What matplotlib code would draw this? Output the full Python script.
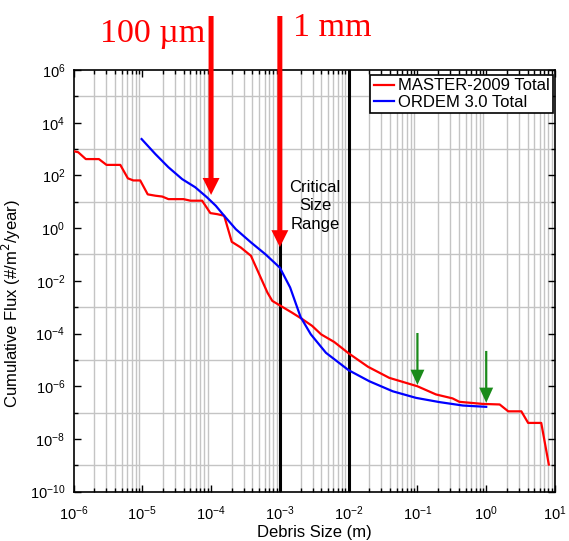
"""MASTER-2009 vs ORDEM 3.0 cumulative debris flux, critical size range marked."""
import matplotlib
matplotlib.use("Agg")
import matplotlib.pyplot as plt
from matplotlib.ticker import LogLocator, NullFormatter

plt.rcParams['font.family'] = ['Liberation Sans', 'DejaVu Sans']

# MASTER-2009 total flux
master_size = [1.0e-6, 1.17e-6, 1.51e-6, 2.34e-6, 3.02e-6, 4.79e-6, 6.17e-6, 7.41e-6,
               9.33e-6, 1.20e-5, 1.55e-5, 1.95e-5, 2.40e-5, 3.98e-5, 5.01e-5, 7.41e-5,
               9.77e-5, 1.23e-4, 1.55e-4, 2.00e-4, 2.69e-4, 3.80e-4, 5.01e-4, 6.61e-4,
               7.76e-4, 1.0e-3, 1.51e-3, 2.14e-3, 2.95e-3, 3.98e-3, 6.17e-3, 1.0e-2,
               1.91e-2, 3.89e-2, 0.10, 0.186, 0.324, 0.407, 0.891, 1.57, 2.09, 3.24,
               4.07, 6.31, 8.13]
master_flux = [832, 759, 417, 417, 251, 251, 77.6, 64.6,
               64.6, 19.1, 17.0, 15.8, 12.6, 12.6, 11.0, 11.0,
               3.72, 3.39, 2.95, 0.302, 0.186, 0.0891, 0.0178, 3.55e-3,
               1.74e-3, 1.17e-3, 6.17e-4, 3.47e-4, 1.95e-4, 9.33e-5, 4.79e-5, 1.78e-5,
               5.50e-6, 2.09e-6, 1.0e-6, 4.90e-7, 3.47e-7, 2.57e-7, 2.14e-7, 2.04e-7,
               1.12e-7, 1.12e-7, 4.07e-8, 4.07e-8, 1.07e-9]

# ORDEM 3.0 total flux
ordem_size = [9.77e-6, 1.55e-5, 2.40e-5, 3.80e-5, 5.89e-5, 8.71e-5, 1.17e-4, 1.55e-4,
              2.29e-4, 3.80e-4, 6.17e-4, 1.0e-3, 1.41e-3, 2.0e-3, 2.82e-3, 4.68e-3,
              1.0e-2, 2.0e-2, 4.37e-2, 9.55e-2, 0.209, 0.457, 1.0]
ordem_flux = [2400, 646, 204, 72.4, 35.5, 14.8, 7.08, 2.95,
              0.912, 0.288, 0.102, 0.0316, 5.62e-3, 4.27e-4, 9.33e-5, 1.86e-5,
              4.07e-6, 1.55e-6, 6.46e-7, 3.63e-7, 2.51e-7, 1.86e-7, 1.66e-7]

critical_bounds = [1e-3, 1e-2]

fig = plt.figure(figsize=(5.69, 5.41), dpi=100)
ax = fig.add_axes([73.5 / 569, 1 - 491.7 / 541, 481.5 / 569, 421.7 / 541])
ax.set_xscale("log")
ax.set_yscale("log")
ax.set_xlim(1e-6, 1e1)
ax.set_ylim(1e-10, 1e6)

# ticks: decades on x, every second decade on y (MATLAB look)
ax.set_xticks([10.0 ** k for k in range(-6, 2)])
ax.xaxis.set_minor_locator(LogLocator(base=10, subs=range(2, 10), numticks=50))
ax.xaxis.set_minor_formatter(NullFormatter())
ax.set_yticks([10.0 ** k for k in range(-10, 7, 2)])
ax.set_yticks([10.0 ** k for k in range(-9, 6, 2)], minor=True)
ax.yaxis.set_minor_formatter(NullFormatter())
ax.tick_params(which="both", direction="in", top=True, right=True, labelsize=10.5,
               width=1, colors="black")
ax.tick_params(which="major", length=5)
ax.tick_params(which="minor", length=3)
ax.tick_params(axis="x", which="major", pad=9)
ax.tick_params(axis="y", which="major", pad=6)
ax.grid(False, which="major")
ax.grid(True, which="minor", color="#c4c4c4", lw=1.0)
ax.set_axisbelow(True)
for s in ax.spines.values():
    s.set_linewidth(1.2)

for xb in critical_bounds:
    ax.axvline(xb, color="black", lw=2.2, zorder=1.5)

ax.plot(master_size, master_flux, color="#ff0000", lw=1.6, label="MASTER-2009 Total", zorder=3)
ax.plot(ordem_size, ordem_flux, color="#0000ff", lw=1.6, label="ORDEM 3.0 Total", zorder=3)

ax.set_xlabel("Debris Size (m)", fontsize=12)
ax.xaxis.set_label_coords(0.5, -0.08)
ax.set_ylabel("Cumulative Flux (#/m$^2$/year)", fontsize=12)
ax.yaxis.set_label_coords(-0.105, 0.447)

leg = ax.legend(loc="upper right", bbox_to_anchor=(0.996, 0.988), borderaxespad=0,
                fontsize=12, fancybox=False, framealpha=1, edgecolor="black",
                labelspacing=0.1, borderpad=0.2, handlelength=1.2, handletextpad=0.25)
leg.get_frame().set_linewidth(1.2)

# critical size range label
fig.text(315 / 569, 1 - 206 / 541, "Critical\nSize\nRange", ha="center", va="center",
         fontsize=12, linespacing=1.3)

# red arrows from above the axes: 100 um and 1 mm
tail_y = 1 - 16 / 541
for xs, tip in [(1e-4, 18.2), (1e-3, 0.19)]:
    ax.annotate("", xy=(xs, tip), xycoords="data", xytext=(xs, tail_y),
                textcoords=("data", "figure fraction"), annotation_clip=False,
                arrowprops=dict(arrowstyle="simple,head_length=1.22,head_width=1.22,tail_width=0.36",
                                mutation_scale=10, color="#ff0000", lw=0,
                                shrinkA=0, shrinkB=0), zorder=10)
fig.text(205 / 569, 1 - 42 / 541, "100 µm", ha="right", va="baseline", fontsize=24.5,
         color="#ff0000", family=["Liberation Serif", "DejaVu Serif"])
fig.text(293 / 569, 1 - 36 / 541, "1 mm", ha="left", va="baseline", fontsize=24.5,
         color="#ff0000", family=["Liberation Serif", "DejaVu Serif"])

# green markers at 10 cm and 1 m
for xs, tip, tail in [(0.1, 1.12e-6, 1.05e-4), (1.0, 2.34e-7, 2.19e-5)]:
    ax.annotate("", xy=(xs, tip), xytext=(xs, tail),
                arrowprops=dict(arrowstyle="simple,head_length=1.1,head_width=1.0,tail_width=0.16",
                                mutation_scale=10, color="#1a8a1a", lw=0,
                                shrinkA=0, shrinkB=0), zorder=9)

fig.savefig("out.png", dpi=100, facecolor="white")
